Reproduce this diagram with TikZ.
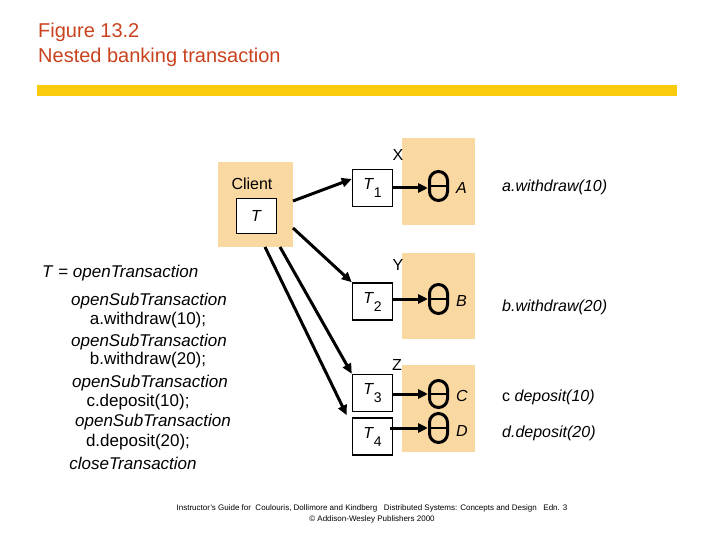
\documentclass[tikz,border=0pt]{standalone}
\usepackage{fontspec}
\setmainfont{Liberation Sans}
\usetikzlibrary{arrows.meta}
\definecolor{peach}{RGB}{250,216,162}
\definecolor{titlered}{RGB}{200,66,30}
\definecolor{baryellow}{RGB}{250,202,12}
\newcommand\Tsub[1]{\textit{T}\raisebox{-8pt}{\fontsize{14}{14}\selectfont #1}}
\tikzset{
  txt/.style={inner sep=0pt, font=\fontsize{16}{19}\selectfont},
  prog/.style={inner sep=0pt, font=\fontsize{17}{19}\selectfont},
  srv/.style={fill=peach, draw=none, inner sep=0pt, minimum width=73pt},
  tbox/.style={draw, line width=1.5pt, fill=white, inner sep=0pt, minimum width=40pt, minimum height=37pt, font=\fontsize{16}{19}\selectfont},
  cyl/.style={draw, line width=3pt, rounded corners=9pt, inner sep=0pt, minimum width=18pt, minimum height=29pt},
  conn/.style={line width=3pt, -{Triangle[length=10pt,width=9pt]}},
  bar/.style={line width=1.8pt},
  foot/.style={inner sep=0pt, font=\fontsize{8}{10}\selectfont}
}
\begin{document}
\begin{tikzpicture}[x=1pt,y=-1pt]
\useasboundingbox (0,0) rectangle (720,540);
% title
\node[anchor=west, inner sep=0pt, text=titlered, font=\fontsize{20}{24}\selectfont] (t1t) at (38,32) {Figure 13.2};
\node[anchor=west, inner sep=0pt, text=titlered, font=\fontsize{20}{24}\selectfont] (t2t) at (38,57) {Nested banking transaction};
\fill[baryellow] (37,85) rectangle (677,96);
% client
\node[srv, minimum width=75pt, minimum height=85pt] (client) at (255.5,204.5) {};
\node[txt] (clientlbl) at (252,184) {Client};
\node[tbox, minimum height=35pt] (T) at (256.5,216) {\textit{T}};
% servers
\node[srv, minimum height=87pt] (X) at (438.5,181.5) {};
\node[srv, minimum height=86pt] (Y) at (438.5,296) {};
\node[srv, minimum height=87pt] (Z) at (438.5,408.5) {};
\node[txt] (Xl) at (398,155) {X};
\node[txt] (Yl) at (398,265) {Y};
\node[txt] (Zl) at (397,365) {Z};
% subtransactions
\node[tbox] (T1) at (372.5,188) {\Tsub{1}};
\node[tbox] (T2) at (372.5,301.5) {\Tsub{2}};
\node[tbox] (T3) at (372.5,393) {\Tsub{3}};
\node[tbox] (T4) at (372.5,436.5) {\Tsub{4}};
% objects
\node[cyl] (A) at (438.5,186) {};
\node[cyl] (B) at (438.5,299) {};
\node[cyl, minimum height=27pt] (C) at (438.5,394) {};
\node[cyl] (D) at (438.5,428) {};
\foreach \o in {A,B,C,D} \draw[bar] (\o.west) -- (\o.east);
\node[txt, anchor=west] (Al) at (456,188) {\textit{A}};
\node[txt, anchor=west] (Bl) at (456,301) {\textit{B}};
\node[txt, anchor=west] (Cl) at (456,396) {\textit{C}};
\node[txt, anchor=west] (Dl) at (456,431) {\textit{D}};
% operations
\node[txt, anchor=west] (opa) at (502,187) {\textit{a.withdraw(10)}};
\node[txt, anchor=west] (opb) at (502,307) {\textit{b.withdraw(20)}};
\node[txt, anchor=west] (opc) at (502,397) {c \textit{deposit(10)}};
\node[txt, anchor=west] (opd) at (502,433) {\textit{d.deposit(20)}};
% connectors
\coordinate (s1) at (293,201);
\coordinate (s2) at (293,228);
\coordinate (s3) at (280,247);
\coordinate (s4) at (265,247);
\draw[conn] (s1) -- ([yshift=9pt]T1.west);
\draw[conn] (s2) -- (T2.north west);
\draw[conn] (s3) -- (T3.north west);
\draw[conn] (s4) -- ([xshift=-5pt,yshift=2pt]T4.north west);
\draw[conn] (T1.east) -- (A.west |- T1.east);
\draw[conn] (T2.east |- B.center) -- (B.west);
\draw[conn] (T3.east |- C.center) -- (C.west);
\draw[conn] ([xshift=-3pt]T4.east |- D.center) -- (D.west);
% program text
\node[prog, anchor=west] (l0) at (42,273) {\textit{T} = \textit{openTransaction}};
\node[prog] (l1) at (149,301) {\textit{openSubTransaction}};
\node[prog] (l2) at (148,320) {a.withdraw(10);};
\node[prog] (l3) at (149,342) {\textit{openSubTransaction}};
\node[prog] (l4) at (148,360) {b.withdraw(20);};
\node[prog] (l5) at (150,383) {\textit{openSubTransaction}};
\node[prog] (l6) at (138,402) {c.deposit(10);};
\node[prog] (l7) at (153,422) {\textit{openSubTransaction}};
\node[prog] (l8) at (138,442) {d.deposit(20);};
\node[prog] (l9) at (133,463) {\textit{closeTransaction}};
% footer
\node[foot] (foot1) at (372,508) {Instructor's Guide for\ \ Coulouris, Dollimore and Kindberg\ \ \ Distributed Systems: Concepts and Design\ \ \ Edn. 3};
\node[foot] (foot2) at (372,519) {© Addison-Wesley Publishers 2000};
\end{tikzpicture}
\end{document}
